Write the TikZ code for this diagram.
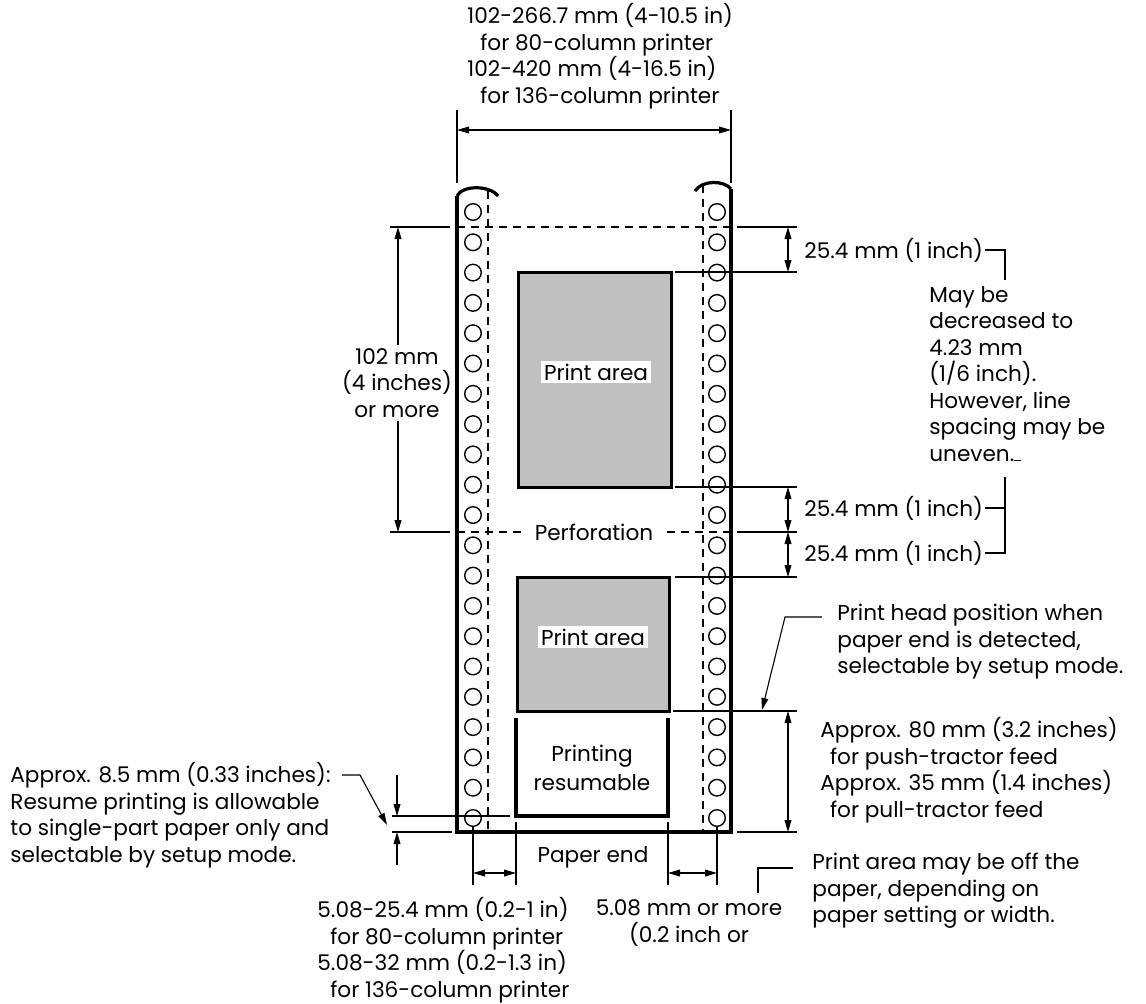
\documentclass[tikz,border=0pt]{standalone}
\usepackage{fontspec}
\setmainfont{Poppins}
\usetikzlibrary{arrows.meta}
\definecolor{areagray}{HTML}{C0C0C0}

\begin{document}
\begin{tikzpicture}[x=0.5pt,y=-0.5pt,
    every node/.style={font=\fontsize{10.8}{13.25}\selectfont, inner sep=1pt},
    paper/.style={line width=1.6pt},
    perf/.style={line width=1.4pt, dash pattern=on 4pt off 3pt},
    hole/.style={line width=0.7pt},
    area/.style={draw, line width=1.5pt, fill=areagray},
    ext/.style={line width=0.55pt},
    dim/.style={line width=0.55pt, {Triangle[length=6pt,width=3.4pt]}-{Triangle[length=6pt,width=3.4pt]}},
    arr/.style={line width=0.55pt, -{Triangle[length=6pt,width=3.4pt]}},
    lead/.style={line width=0.55pt},
    tag/.style={fill=white, inner sep=1.5pt}]
    \useasboundingbox (0,0) rectangle (1146,1003);

    % paper
    \coordinate (ptl) at (457,196);
    \coordinate (ptr) at (731,189);
    \coordinate (pbl) at (457,832);
    \coordinate (pbr) at (731,832);
    \draw[paper] (ptl) -- (pbl) -- (pbr) -- (ptr);
    \draw[paper] (ptl) .. controls (462,185) and (490,185) .. (498,196);
    \draw[paper] (695,191) .. controls (702,180) and (724,180) .. (ptr);

    % tractor holes
    \foreach \i in {0,...,20} {
        \draw[hole] (473,{212+30.3*\i}) circle[radius=8.3];
        \draw[hole] (717,{212+30.3*\i}) circle[radius=8.3];
    }

    % perforations
    \draw[perf] (488,191) -- (488,832);
    \draw[perf] (703,185) -- (703,832);
    \draw[perf] (457,227) -- (731,227);
    \draw[perf] (457,532) -- (731,532);
    \node[tag, inner xsep=4pt] (perf) at (594,532) {Perforation};

    % print areas
    \draw[area] (518,272) rectangle (671,487);
    \node[tag] (pa1) at (596,372) {Print area};
    \draw[area] (517,577) rectangle (669,711);
    \node[tag] (pa2) at (593,637) {Print area};
    \draw[paper] (516,718) -- (516,816) -- (668,816) -- (668,718);
    \node[align=center, font=\fontsize{10.8}{14.6}\selectfont] (resume) at (592,768) {Printing\\resumable};

    % paper width
    \draw[ext] (457,110) -- (457,183);
    \draw[ext] (731,110) -- (731,183);
    \coordinate (wl) at (457,130);
    \coordinate (wr) at (731,130);
    \draw[dim] (wl) -- (wr);
    \node[anchor=west, align=left] (width) at (465,56) {102-266.7 mm (4-10.5 in)\\\hspace*{0.6em}for 80-column printer\\102-420 mm (4-16.5 in)\\\hspace*{0.6em}for 136-column printer};

    % form length
    \draw[ext] (390,227) -- (450,227);
    \draw[ext] (390,532) -- (450,532);
    \coordinate (fa) at (398,227);
    \coordinate (fb) at (398,532);
    \draw[dim] (fa) -- (fb);
    \node[tag, align=center] (form) at (397,383) {102 mm\\(4 inches)\\or more};

    % top and bottom margins
    \foreach \y in {227,532} \draw[ext] (737,\y) -- (797,\y);
    \foreach \y in {272,487,577} \draw[ext] (675,\y) -- (797,\y);
    \coordinate (ma) at (788,227);
    \coordinate (mb) at (788,272);
    \coordinate (mc) at (788,487);
    \coordinate (md) at (788,532);
    \coordinate (me) at (788,577);
    \draw[dim] (ma) -- (mb);
    \draw[dim] (mc) -- (md);
    \draw[dim] (md) -- (me);
    \node[anchor=west] (topm) at (802,250) {25.4 mm (1 inch)};
    \node[anchor=west] (midm) at (802,508) {25.4 mm (1 inch)};
    \node[anchor=west] (lowm) at (802,553) {25.4 mm (1 inch)};
    \coordinate (ka) at (1005,280);
    \coordinate (kb) at (1005,477);
    \draw[lead] (topm.east) -| (ka);
    \draw[lead] (lowm.east) -| (kb);
    \draw[lead] (midm.east) -- (midm.east -| kb);
    \node[anchor=west, align=left] (note) at (927,374) {May be\\decreased to\\4.23 mm\\(1/6 inch).\\However, line\\spacing may be\\uneven.\rule{0.3em}{0.6pt}};

    % paper end distance
    \draw[ext] (673,711) -- (797,711);
    \draw[ext] (737,832) -- (797,832);
    \coordinate (ha) at (788,711);
    \coordinate (hb) at (788,832);
    \draw[dim] (ha) -- (hb);
    \node[anchor=west, align=left] (feed) at (818,770) {Approx. 80 mm (3.2 inches)\\\hspace*{0.45em}for push-tractor feed\\Approx. 35 mm (1.4 inches)\\\hspace*{0.45em}for pull-tractor feed};
    \node[anchor=west, align=left] (head) at (835,642) {Print head position when\\paper end is detected,\\selectable by setup mode.};
    \coordinate (hs) at (822,617);
    \coordinate (hk) at (785,617);
    \coordinate (ht) at (762,710);
    \draw[arr] (hs) -- (hk) -- (ht);

    % side margins
    \draw[ext] (473,827) -- (473,885);
    \draw[ext] (516,822) -- (516,885);
    \draw[ext] (668,822) -- (668,885);
    \draw[ext] (717,827) -- (717,885);
    \coordinate (ea) at (473,873);
    \coordinate (eb) at (516,873);
    \coordinate (ec) at (668,873);
    \coordinate (ed) at (717,873);
    \draw[dim] (ea) -- (eb);
    \draw[dim] (ec) -- (ed);
    \node (pend) at (593,857) {Paper end};
    \node[anchor=west, align=left] (lmargin) at (315,950) {5.08-25.4 mm (0.2-1 in)\\\hspace*{0.6em}for 80-column printer\\5.08-32 mm (0.2-1.3 in)\\\hspace*{0.6em}for 136-column printer};
    \node[align=center] (rmargin) at (689,923) {5.08 mm or more\\(0.2 inch or};
    \node[anchor=west, align=left] (off) at (810,891) {Print area may be off the\\paper, depending on\\paper setting or width.};
    \coordinate (oa) at (793,868);
    \coordinate (ob) at (758,893);
    \draw[lead] (oa) -| (ob);

    % resume zone
    \draw[ext] (392,816) -- (510,816);
    \draw[ext] (392,832) -- (452,832);
    \coordinate (ra) at (397,775);
    \coordinate (rb) at (397,816);
    \coordinate (rc) at (397,865);
    \coordinate (rd) at (397,832);
    \draw[arr] (ra) -- (rb);
    \draw[arr] (rc) -- (rd);
    \node[anchor=west, align=left] (rnote) at (8,815) {Approx. 8.5 mm (0.33 inches):\\Resume printing is allowable\\to single-part paper only and\\selectable by setup mode.};
    \coordinate (la) at (342,775);
    \coordinate (lb) at (360,775);
    \coordinate (lc) at (387,825);
    \draw[arr] (la) -- (lb) -- (lc);
\end{tikzpicture}
\end{document}
